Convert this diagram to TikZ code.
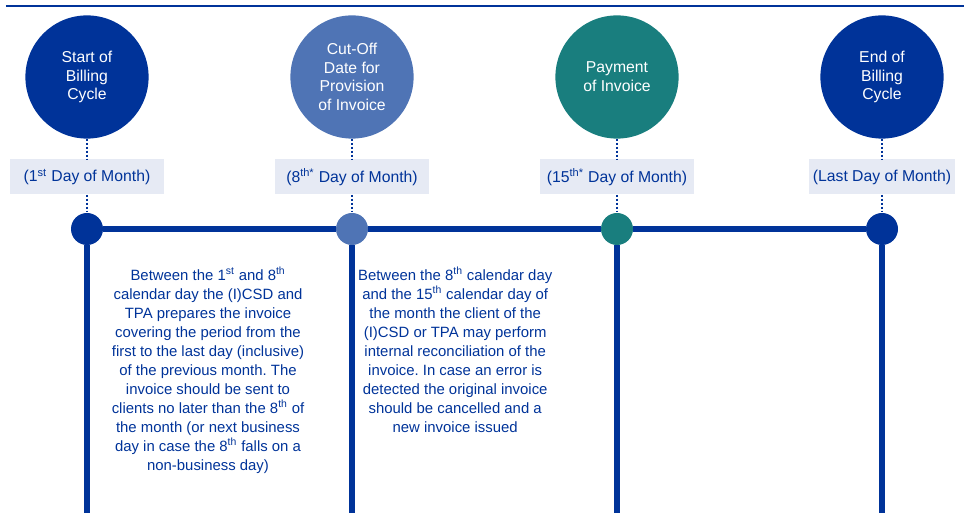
\documentclass[tikz,border=0pt]{standalone}
\usepackage{fontspec}
\setmainfont{Liberation Sans}
\frenchspacing
\definecolor{ecb}{RGB}{0,51,153}
\definecolor{cutoff}{RGB}{79,116,181}
\definecolor{payment}{RGB}{25,126,126}
\definecolor{light}{RGB}{230,234,244}

\begin{document}
\begin{tikzpicture}[
  bigdot/.style={circle, minimum size=3.08cm, inner sep=0, text=white, align=center, font=\fontsize{11.2}{13.3}\selectfont},
  smalldot/.style={circle, minimum size=0.8cm, inner sep=0},
  datebox/.style={fill=light, text=ecb, minimum width=3.85cm, minimum height=0.875cm, inner sep=0, font=\fontsize{11.2}{13.3}\selectfont},
  dotline/.style={ecb, line width=1.4pt, dash pattern=on 1.4pt off 1.4pt},
  railline/.style={ecb, line width=3.6pt},
  notetext/.style={text=ecb, align=center, anchor=north, inner sep=0, font=\fontsize{10.6}{13.5}\selectfont}]
\useasboundingbox (0, 0) rectangle (24.1, 12.825);
\coordinate (topl) at (0.15, 12.675);
\coordinate (topr) at (24.1, 12.675);
\draw [ecb, line width=1.5pt] (topl) -- (topr);

\node [bigdot, fill=ecb] (start) at (2.175, 10.9) {Start of\\Billing\\Cycle};
\node [bigdot, fill=cutoff] (cutoff) at (8.8, 10.9) {Cut-Off\\Date for\\Provision\\of Invoice};
\node [bigdot, fill=payment] (payment) at (15.425, 10.9) {Payment\\of Invoice};
\node [bigdot, fill=ecb] (end) at (22.05, 10.9) {End of\\Billing\\Cycle};

\node [datebox] (d1) at (2.175, 8.4) {(1\textsuperscript{st} Day of Month)};
\node [datebox] (d8) at (8.8, 8.4) {(8\textsuperscript{th*} Day of Month)};
\node [datebox] (d15) at (15.425, 8.4) {(15\textsuperscript{th*} Day of Month)};
\node [datebox, minimum width=3.65cm] (dlast) at (22.05, 8.4) {(Last Day of Month)};

\node [smalldot, fill=ecb] (p1) at (2.175, 7.1) {};
\node [smalldot, fill=cutoff] (p8) at (8.8, 7.1) {};
\node [smalldot, fill=payment] (p15) at (15.425, 7.1) {};
\node [smalldot, fill=ecb] (plast) at (22.05, 7.1) {};

\coordinate (b1) at (2.175, 0);
\coordinate (b8) at (8.8, 0);
\coordinate (b15) at (15.425, 0);
\coordinate (blast) at (22.05, 0);

\draw [dotline] (start) -- (d1);
\draw [dotline] (d1) -- (p1);
\draw [dotline] (cutoff) -- (d8);
\draw [dotline] (d8) -- (p8);
\draw [dotline] (payment) -- (d15);
\draw [dotline] (d15) -- (p15);
\draw [dotline] (end) -- (dlast);
\draw [dotline] (dlast) -- (plast);

\draw [railline] (p1) -- (p8);
\draw [railline] (p8) -- (p15);
\draw [railline] (p15) -- (plast);
\draw [railline] (p1) -- (b1);
\draw [railline] (p8) -- (b8);
\draw [railline] (p15) -- (b15);
\draw [railline] (plast) -- (blast);

\node [notetext] (prep) at (5.2, 6.15) {Between the 1\textsuperscript{st} and 8\textsuperscript{th}\\calendar day the (I)CSD and\\TPA prepares the invoice\\covering the period from the\\first to the last day (inclusive)\\of the previous month. The\\invoice should be sent to\\clients no later than the 8\textsuperscript{th} of\\the month (or next business\\day in case the 8\textsuperscript{th} falls on a\\non-business day)};
\node [notetext] (recon) at (11.38, 6.15) {Between the 8\textsuperscript{th} calendar day\\and the 15\textsuperscript{th} calendar day of\\the month the client of the\\(I)CSD or TPA may perform\\internal reconciliation of the\\invoice. In case an error is\\detected the original invoice\\should be cancelled and a\\new invoice issued};
\end{tikzpicture}
\end{document}
